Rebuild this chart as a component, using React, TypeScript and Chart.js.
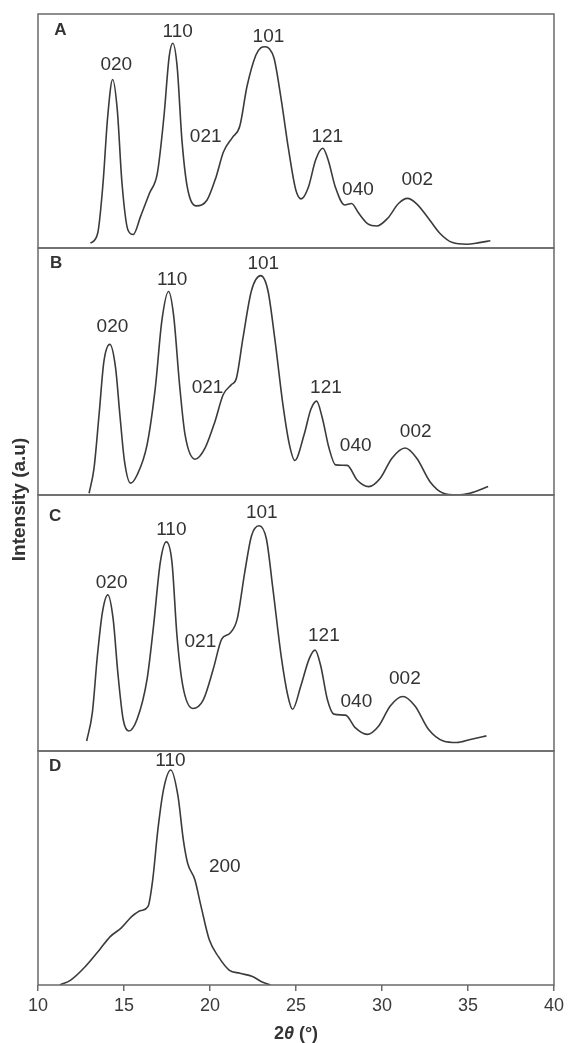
import React, { useEffect, useRef } from "react";
import { Chart, registerables } from "chart.js";

Chart.register(...registerables);

// ---- data: [2θ (°), relative intensity] ----
const curveA: [number, number][] = [
  [13.05, 0.02], [13.47, 0.063], [13.78, 0.276], [14.05, 0.56], [14.34, 0.72], [14.61, 0.59],
  [14.88, 0.28], [15.23, 0.077], [15.54, 0.058], [15.96, 0.134], [16.48, 0.234], [16.94, 0.32],
  [17.32, 0.56], [17.63, 0.82], [17.84, 0.875], [18.09, 0.775], [18.37, 0.46], [18.68, 0.26],
  [19.2, 0.18], [19.83, 0.205], [20.36, 0.305], [20.78, 0.41], [21.31, 0.473], [21.73, 0.52],
  [22.15, 0.69], [22.67, 0.825], [22.95, 0.855], [23.2, 0.86], [23.45, 0.852], [23.73, 0.81],
  [24.15, 0.63], [24.57, 0.42], [24.99, 0.248], [25.3, 0.21], [25.72, 0.26], [26.14, 0.376],
  [26.56, 0.426], [26.87, 0.376], [27.29, 0.26], [27.82, 0.184], [28.23, 0.19], [28.65, 0.148],
  [29.18, 0.103], [29.7, 0.094], [30.33, 0.127], [30.96, 0.19], [31.48, 0.212], [32.0, 0.19],
  [32.63, 0.134], [33.36, 0.063], [34.1, 0.023], [34.93, 0.016], [35.66, 0.023], [36.3, 0.031],
];

const curveB: [number, number][] = [
  [12.97, 0.007], [13.26, 0.11], [13.55, 0.325], [13.83, 0.54], [14.18, 0.61], [14.51, 0.515],
  [14.76, 0.325], [15.03, 0.136], [15.38, 0.048], [15.76, 0.081], [16.34, 0.203], [16.82, 0.434],
  [17.2, 0.705], [17.59, 0.824], [17.88, 0.73], [18.23, 0.447], [18.55, 0.244], [19.13, 0.145],
  [19.71, 0.19], [20.29, 0.298], [20.77, 0.407], [21.25, 0.447], [21.54, 0.474], [21.92, 0.637],
  [22.41, 0.827], [22.95, 0.888], [23.37, 0.827], [23.76, 0.637], [24.24, 0.366], [24.62, 0.203],
  [24.93, 0.14], [25.47, 0.244], [25.86, 0.346], [26.2, 0.38], [26.53, 0.312], [26.92, 0.19],
  [27.3, 0.122], [27.98, 0.12], [28.55, 0.061], [29.23, 0.034], [29.9, 0.068], [30.58, 0.149],
  [31.35, 0.19], [32.02, 0.149], [32.79, 0.054], [33.57, 0.007], [34.34, 0.0], [35.1, 0.007],
  [36.17, 0.034],
];

const curveC: [number, number][] = [
  [12.83, 0.039], [13.16, 0.15], [13.45, 0.37], [13.74, 0.54], [14.06, 0.61], [14.37, 0.515],
  [14.64, 0.307], [14.95, 0.124], [15.28, 0.078], [15.76, 0.124], [16.34, 0.28], [16.72, 0.49],
  [17.11, 0.737], [17.46, 0.817], [17.79, 0.737], [18.08, 0.45], [18.42, 0.254], [19.0, 0.166],
  [19.61, 0.2], [20.19, 0.32], [20.68, 0.437], [21.16, 0.46], [21.58, 0.515], [22.02, 0.698],
  [22.41, 0.84], [22.85, 0.88], [23.28, 0.828], [23.66, 0.632], [24.14, 0.37], [24.53, 0.215],
  [24.8, 0.163], [25.28, 0.254], [25.76, 0.359], [26.11, 0.394], [26.44, 0.332], [26.82, 0.202],
  [27.2, 0.144], [27.88, 0.14], [28.46, 0.09], [29.13, 0.065], [29.81, 0.098], [30.48, 0.176],
  [31.21, 0.213], [31.92, 0.176], [32.7, 0.085], [33.57, 0.039], [34.34, 0.033], [35.2, 0.046],
  [36.07, 0.059],
];

const curveD: [number, number][] = [
  [11.27, 0.0], [11.9, 0.021], [12.74, 0.078], [13.57, 0.15], [14.2, 0.207], [14.83, 0.243],
  [15.46, 0.293], [15.98, 0.318], [16.4, 0.336], [16.67, 0.45], [16.97, 0.664], [17.3, 0.836],
  [17.72, 0.919], [18.14, 0.807], [18.45, 0.62], [18.7, 0.52], [19.12, 0.45], [19.48, 0.336],
  [19.96, 0.193], [20.49, 0.121], [21.11, 0.064], [21.74, 0.05], [22.47, 0.036], [23.0, 0.014],
  [23.52, 0.0],
];

// panel letters and reflection (hkl) labels: text, 2θ position, intensity position
const panelLetters = ["A", "B", "C", "D"];
const letterX = [11.3, 11.05, 11.0, 11.0];
const letterY = [0.932, 0.937, 0.917, 0.933];

const hklA = ["020", "110", "021", "101", "121", "040", "002"];
const hklXA = [14.55, 18.12, 19.75, 23.4, 26.82, 28.6, 32.05];
const hklYA = [0.785, 0.924, 0.476, 0.903, 0.476, 0.248, 0.29];

const hklB = ["020", "110", "021", "101", "121", "040", "002"];
const hklXB = [14.33, 17.8, 19.86, 23.1, 26.74, 28.47, 31.96];
const hklYB = [0.68, 0.873, 0.436, 0.935, 0.436, 0.2, 0.254];

const hklC = ["020", "110", "021", "101", "121", "040", "002"];
const hklXC = [14.28, 17.75, 19.44, 23.01, 26.62, 28.51, 31.33];
const hklYC = [0.656, 0.866, 0.426, 0.932, 0.452, 0.192, 0.283];

const hklD = ["110", "200"];
const hklXD = [17.7, 20.86];
const hklYD = [0.96, 0.507];

const panelWeights = [234, 247, 256, 234];
const xTicks = [10, 15, 20, 25, 30, 35, 40];
const xTitleParts = ["2", "θ", " (°)"];
const yTitle = "Intensity (a.u)";

const FONT = '"Liberation Sans", Arial, Helvetica, sans-serif';
const LINE = "#3b3b3b";
const FRAME = "#6a6a6a";
const TEXT = "#333333";

export default function App() {
  const ref = useRef<HTMLCanvasElement | null>(null);

  useEffect(() => {
    if (!ref.current) return;
    const axisIds = ["yA", "yB", "yC", "yD"];
    const curves = [curveA, curveB, curveC, curveD];
    const hkl = [
      { t: hklA, x: hklXA, y: hklYA },
      { t: hklB, x: hklXB, y: hklYB },
      { t: hklC, x: hklXC, y: hklYC },
      { t: hklD, x: hklXD, y: hklYD },
    ];

    const yScales: any = {};
    // defined bottom-first so the stacked layout puts A on top
    for (let i = axisIds.length - 1; i >= 0; i--) {
      yScales[axisIds[i]] = {
        type: "linear",
        position: "left",
        stack: "panels",
        stackWeight: panelWeights[i],
        min: 0,
        max: 1,
        display: true,
        ticks: { display: false },
        grid: { display: false },
        border: { display: false },
        afterFit: (s: any) => {
          s.width = 0;
        },
      };
    }

    const annotate = {
      id: "annotate",
      afterDatasetsDraw(chart: any) {
        const ctx = chart.ctx as CanvasRenderingContext2D;
        const xs = chart.scales.x;
        const { left, right } = chart.chartArea;
        ctx.save();
        axisIds.forEach((id, i) => {
          const ys = chart.scales[id];
          ctx.strokeStyle = FRAME;
          ctx.lineWidth = 1.5;
          ctx.strokeRect(left, ys.top, right - left, ys.bottom - ys.top);
          ctx.fillStyle = TEXT;
          ctx.textAlign = "center";
          ctx.textBaseline = "middle";
          ctx.font = `bold 17px ${FONT}`;
          ctx.fillText(panelLetters[i], xs.getPixelForValue(letterX[i]), ys.getPixelForValue(letterY[i]));
          ctx.font = `19px ${FONT}`;
          const h = hkl[i];
          h.t.forEach((t, k) => {
            ctx.fillText(t, xs.getPixelForValue(h.x[k]), ys.getPixelForValue(h.y[k]));
          });
        });
        // y title
        const top = chart.scales[axisIds[0]].top;
        const bottom = chart.scales[axisIds[3]].bottom;
        ctx.save();
        ctx.translate(20, (top + bottom) / 2);
        ctx.rotate(-Math.PI / 2);
        ctx.font = `bold 19px ${FONT}`;
        ctx.fillStyle = TEXT;
        ctx.textAlign = "center";
        ctx.textBaseline = "middle";
        ctx.fillText(yTitle, 0, 0);
        ctx.restore();
        // x title with italic theta
        const fonts = [`bold 18px ${FONT}`, `italic bold 18px ${FONT}`, `bold 18px ${FONT}`];
        let total = 0;
        const widths = xTitleParts.map((p, k) => {
          ctx.font = fonts[k];
          const w = ctx.measureText(p).width;
          total += w;
          return w;
        });
        let cx = (left + right) / 2 - total / 2;
        const cy = xs.top + 49;
        ctx.textAlign = "left";
        ctx.textBaseline = "middle";
        xTitleParts.forEach((p, k) => {
          ctx.font = fonts[k];
          ctx.fillText(p, cx, cy);
          cx += widths[k];
        });
        ctx.restore();
      },
    };

    const chart = new Chart(ref.current, {
      type: "line",
      data: {
        datasets: curves.map((c, i) => ({
          data: c.map(([x, y]) => ({ x, y })),
          yAxisID: axisIds[i],
          xAxisID: "x",
          borderColor: LINE,
          borderWidth: 1.6,
          pointRadius: 0,
          fill: false,
          cubicInterpolationMode: "monotone" as const,
        })),
      },
      options: {
        animation: false,
        responsive: false,
        devicePixelRatio: 1,
        layout: { padding: { left: 38, right: 12, top: 14, bottom: 0 } },
        plugins: { legend: { display: false }, tooltip: { enabled: false } },
        scales: {
          x: {
            type: "linear",
            position: "bottom",
            min: 10,
            max: 40,
            afterBuildTicks: (s: any) => {
              s.ticks = xTicks.map((v) => ({ value: v }));
            },
            ticks: { color: "#3a3a3a", font: { size: 18, family: FONT }, padding: 4, maxRotation: 0 },
            grid: { display: true, drawOnChartArea: false, drawTicks: true, tickLength: 6, color: FRAME, lineWidth: 1.5 },
            border: { display: false },
            afterFit: (s: any) => {
              s.height = 58;
            },
          },
          ...yScales,
        },
      } as any,
      plugins: [annotate],
    });
    return () => chart.destroy();
  }, []);

  return (
    <div style={{ position: "absolute", left: 0, top: 0, width: 568, height: 1043, background: "#ffffff" }}>
      <canvas ref={ref} width={568} height={1043} style={{ display: "block" }} />
    </div>
  );
}
